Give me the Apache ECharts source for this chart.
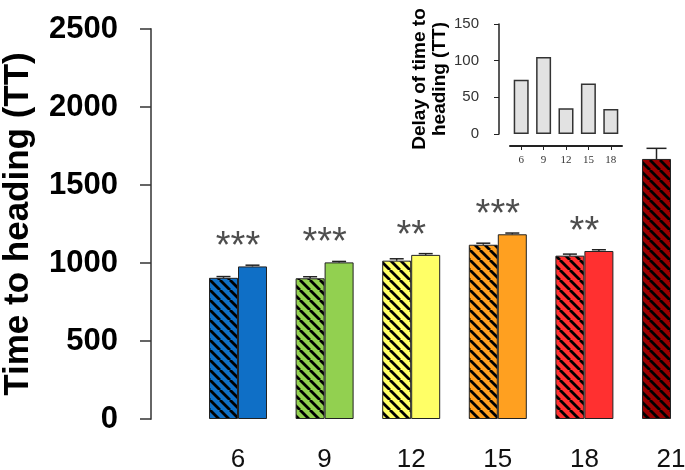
<!DOCTYPE html>
<html><head><meta charset="utf-8">
<script src="https://cdn.jsdelivr.net/npm/echarts@6/dist/echarts.min.js"></script>
<style>html,body{margin:0;padding:0;background:#fff}#c{width:685px;height:470px}</style>
</head><body><div id="c"></div>
<script>
const categories = ['6', '9', '12', '15', '18', '21'];
const hatchedValues = [905, 902, 1015, 1117, 1047, 1667];
const hatchedErrors = [8, 10, 12, 10, 10, 68];
const solidValues = [978, 1004, 1052, 1184, 1077, null];
const solidErrors = [8, 6, 8, 8, 8, null];
const significance = ['***', '***', '**', '***', '**', ''];
const groupColors = ['#0f6fc6', '#92d050', '#ffff66', '#ffa020', '#ff3030', '#990000'];
const insetCategories = ['6', '9', '12', '15', '18'];
const insetValues = [74, 105, 35, 69, 34];

const BAR_W = 29;

function hatch(color) {
  const s = 10, c = document.createElement('canvas');
  c.width = s; c.height = s;
  const g = c.getContext('2d');
  g.fillStyle = color; g.fillRect(0, 0, s, s);
  g.strokeStyle = '#000'; g.lineWidth = 2.8;
  for (let k = -1; k <= 1; k++) {
    g.beginPath(); g.moveTo(k * s, 0); g.lineTo(k * s + s, s); g.stroke();
  }
  return { image: c, repeat: 'repeat' };
}

const errData = [];
hatchedValues.forEach((v, i) => errData.push([i, v, hatchedErrors[i], -1]));
solidValues.forEach((v, i) => { if (v != null) errData.push([i, v, solidErrors[i], 1]); });

const starData = [];
significance.forEach((s, i) => { if (s) starData.push({ value: [i, solidValues[i] + solidErrors[i]], label: { formatter: s } }); });

const chart = echarts.init(document.getElementById('c'), null, { renderer: 'canvas' });
chart.setOption({
  backgroundColor: '#fff',
  animation: false,
  grid: [
    { left: 238, right: 14, top: 29, bottom: 51, outerBoundsMode: 'none', containLabel: false },
    { left: 510, right: 63, top: 24, bottom: 336, outerBoundsMode: 'none', containLabel: false }
  ],
  xAxis: [
    {
      type: 'category', gridIndex: 0, data: categories, boundaryGap: false,
      axisLine: { show: false }, axisTick: { show: false },
      axisLabel: { fontFamily: 'Liberation Sans', fontSize: 26, color: '#111', margin: 28 }
    },
    {
      type: 'category', gridIndex: 1, data: insetCategories, offset: 12,
      axisLine: { show: true, onZero: false, lineStyle: { color: '#222', width: 2 } },
      axisTick: { show: true, alignWithLabel: true, length: 4, lineStyle: { color: '#222' } },
      axisLabel: { fontFamily: 'Liberation Serif', fontSize: 11, color: '#333', margin: 9 }
    }
  ],
  yAxis: [
    {
      type: 'value', gridIndex: 0, min: 0, max: 2500, interval: 500, offset: 87,
      name: 'Time to heading (TT)', nameLocation: 'middle', nameGap: 115,
      nameTextStyle: { fontFamily: 'Liberation Sans', fontWeight: 'bold', fontSize: 35, color: '#000' },
      axisLine: { show: true, lineStyle: { color: '#666', width: 2 } },
      axisTick: { show: true, length: 11, lineStyle: { color: '#333', width: 1.5 } },
      splitLine: { show: false },
      axisLabel: { fontFamily: 'Liberation Sans', fontWeight: 'bold', fontSize: 31, color: '#000', margin: 33, formatter: v => String(v) }
    },
    {
      type: 'value', gridIndex: 1, min: 0, max: 150, interval: 50, offset: 11,
      name: 'Delay of time to\nheading (TT)', nameLocation: 'middle', nameGap: 41,
      nameTextStyle: { fontFamily: 'Liberation Sans', fontWeight: 'bold', fontSize: 19, lineHeight: 20, color: '#000' },
      axisLine: { show: true, lineStyle: { color: '#222', width: 1.5 } },
      axisTick: { show: true, length: 5, lineStyle: { color: '#222' } },
      splitLine: { show: false },
      axisLabel: { fontFamily: 'Liberation Sans', fontSize: 15, color: '#333', margin: 20, formatter: v => String(v) }
    }
  ],
  series: [
    {
      type: 'bar', xAxisIndex: 0, yAxisIndex: 0, barWidth: BAR_W, barGap: '0%', clip: false,
      data: hatchedValues.map((v, i) => ({ value: v, itemStyle: { color: hatch(groupColors[i]) } })),
      itemStyle: { borderColor: '#222', borderWidth: 1 }
    },
    {
      type: 'bar', xAxisIndex: 0, yAxisIndex: 0, barWidth: BAR_W, barGap: '0%', clip: false,
      data: solidValues.map((v, i) => v == null ? '-' : ({ value: v, itemStyle: { color: groupColors[i] } })),
      itemStyle: { borderColor: '#222', borderWidth: 1 }
    },
    {
      type: 'custom', xAxisIndex: 0, yAxisIndex: 0, z: 5,
      data: errData,
      renderItem: function (params, api) {
        const base = api.coord([api.value(0), api.value(1)]);
        const top = api.coord([api.value(0), api.value(1) + api.value(2)]);
        const x = base[0] + api.value(3) * BAR_W / 2;
        const cap = api.value(2) > 30 ? 10 : 7;
        const st = { stroke: '#222', lineWidth: 1.5 };
        return {
          type: 'group', children: [
            { type: 'line', shape: { x1: x, y1: base[1], x2: x, y2: top[1] }, style: st },
            { type: 'line', shape: { x1: x - cap, y1: top[1], x2: x + cap, y2: top[1] }, style: st }
          ]
        };
      }
    },
    {
      type: 'scatter', xAxisIndex: 0, yAxisIndex: 0, symbolSize: 1,
      itemStyle: { color: 'transparent' },
      data: starData,
      label: { show: true, position: 'top', distance: -2, fontFamily: 'Liberation Sans', fontSize: 38, color: '#222' }
    },
    {
      type: 'bar', xAxisIndex: 1, yAxisIndex: 1, barWidth: 15,
      data: insetValues,
      itemStyle: { color: '#e2e2e2', borderColor: '#333', borderWidth: 1.5 }
    }
  ]
});
</script></body></html>
